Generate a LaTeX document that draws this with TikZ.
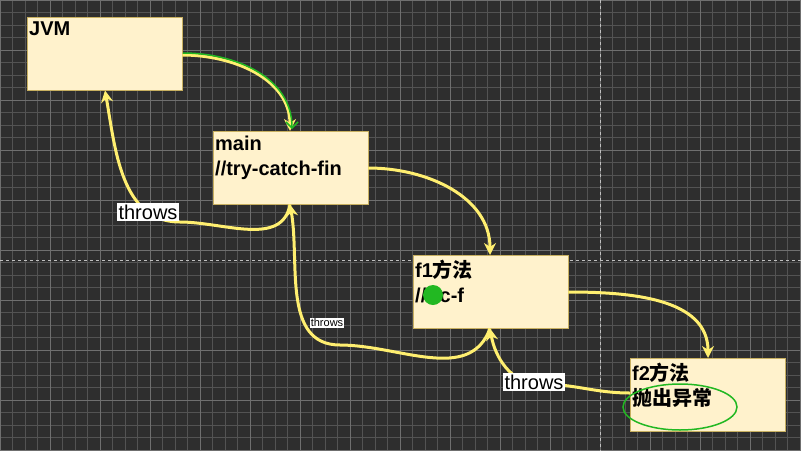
\documentclass[tikz,border=0pt]{standalone}
\usepackage{fontspec}
\setmainfont{Liberation Sans}
\newfontfamily\cjk{Noto Sans CJK SC}
\usetikzlibrary{positioning,arrows.meta}
\definecolor{boardbg}{HTML}{2E2E2E}
\definecolor{boxfill}{HTML}{FFF2CC}
\definecolor{boxline}{HTML}{C8B060}
\definecolor{flow}{HTML}{FFEF70}
\definecolor{penmark}{HTML}{22B822}
\newcommand{\boxtext}[1]{\parbox[t][69pt][t]{151pt}{\vspace*{3pt}\raggedright #1}}
\tikzset{
    method/.style={draw=boxline, fill=boxfill, inner sep=2pt, anchor=north west,
        font=\bfseries\fontsize{20}{25}\selectfont},
    flowline/.style={flow, line width=3pt, -{Stealth[length=12pt,width=12pt]}},
    throwlbl/.style={fill=white, text=black, inner sep=1.5pt, font=\fontsize{20}{22}\selectfont}
}
\begin{document}
\begin{tikzpicture}[x=1pt,y=-1pt]
    \fill[boardbg] (0,0) rectangle (801,451);
    \useasboundingbox (0,0) rectangle (801,451);
    % grid
    \foreach \i in {0,...,64}
        \draw[gray!45!boardbg, line width=.5pt] (\i*12.5,0) -- (\i*12.5,451);
    \foreach \j in {0,...,36}
        \draw[gray!45!boardbg, line width=.5pt] (0,\j*12.5) -- (801,\j*12.5);
    \foreach \i in {0,...,16}
        \draw[gray!80!boardbg, line width=.6pt] (\i*50,0) -- (\i*50,451);
    \foreach \j in {0,...,9}
        \draw[gray!80!boardbg, line width=.6pt] (0,\j*50) -- (801,\j*50);
    \draw[white!70!boardbg, dashed] (0,260) -- (801,260);
    \draw[white!70!boardbg, dashed] (600,0) -- (600,451);

    % boxes
    \node[method] (jvm) at (27,17) {\boxtext{JVM}};
    \node[method] (main) at (213,131) {\boxtext{main\\//try-catch-fin}};
    \node[method] (f1) at (413,255) {\boxtext{f1{\cjk 方法}\\//t-c-f}};
    \node[method] (f2) at (630,358) {\boxtext{f2{\cjk 方法}\\{\cjk 抛出异常}}};

    % calls
    \draw[flowline] (jvm.east |- 0,55) to[out=0, in=90] (main.north -| 290,0);
    \draw[penmark, line width=1.5pt, -{Straight Barb[length=6pt]}] (183,53) to[out=0, in=90] (292,129);
    \draw[flowline] (main.east |- 0,168) to[out=0, in=90] (f1.north -| 490,0);
    \draw[flowline] (f1.east |- 0,292) to[out=0, in=90] (f2.north -| 708,0);

    % throws
    \draw[flowline] (main.south -| 290,0) to[out=-100, in=0] (180,222) to[out=180, in=-80] (jvm.south -| 105,0);
    \node[throwlbl] (t1) at (148,212) {throws};
    \draw[flowline] (f1.south -| 490,0) to[out=-110, in=0] (340,345) to[out=180, in=-80] (main.south -| 290,0);
    \node[throwlbl, font=\fontsize{11}{12}\selectfont, inner sep=.5pt] (t2) at (327,323) {throws};
    \draw[flowline] (f2.west |- 0,393) to[out=180, in=0] (540,384) to[out=180, in=-80] (f1.south -| 490,0);
    \node[throwlbl] (t3) at (534,382) {throws};

    % marks
    \fill[penmark] (433,295) circle (10);
    \draw[penmark, line width=1.5pt] (680,407) ellipse (57 and 23);
\end{tikzpicture}
\end{document}
